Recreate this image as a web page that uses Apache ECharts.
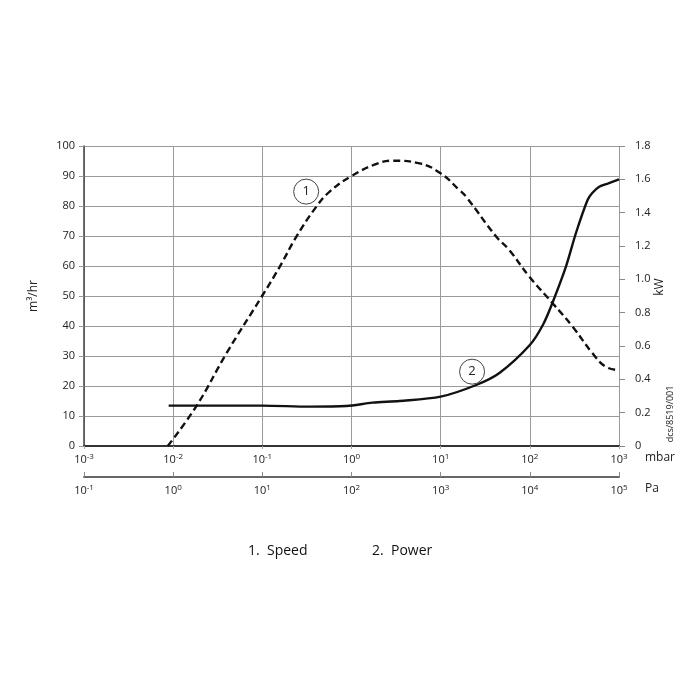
<!DOCTYPE html>
<html>
<head>
<meta charset="utf-8">
<script src="https://cdn.jsdelivr.net/npm/echarts@6/dist/echarts.min.js"></script>
<style>
  html, body { margin: 0; padding: 0; background: #fff; }
  #chart { width: 700px; height: 700px; }
</style>
</head>
<body>
<div id="chart"></div>
<script>
// pressure in mbar, speed in m3/hr (left axis), power in kW (right axis)
const speedPressure = [0.0087, 0.0183, 0.0396, 0.0993, 0.157, 0.241, 0.404, 0.569, 1.0, 1.98, 2.91, 5.8, 10, 16.2, 19.3, 41.9, 58.9, 98.9, 180, 302, 505, 713, 1000];
const speedValues   = [0, 13.4, 30.9, 50, 59.8, 69.8, 79.8, 84.8, 90, 94.2, 95.1, 94.2, 90.9, 85.3, 83.1, 69.8, 65.3, 56.4, 47.6, 39.8, 30.9, 26.4, 25.3];

const powerPressure = [0.0089, 0.1, 0.34, 0.875, 1.72, 3.46, 10, 25, 45.6, 100, 140, 179, 254, 329, 444, 501, 600, 759, 1000];
const powerValues   = [0.242, 0.242, 0.236, 0.24, 0.26, 0.27, 0.296, 0.366, 0.438, 0.606, 0.726, 0.858, 1.076, 1.278, 1.476, 1.518, 1.556, 1.576, 1.6];

const legendItems = ["1.  Speed", "2.  Power"];
const curveTags = ["1", "2"];
// tag positions: [mbar, value on the series' own axis]
const speedTagAt = [0.31, 84.8];
const powerTagAt = [22.5, 0.446];

const FONT = "Open Sans";
const TXT = "#222";

const pair = (xs, ys) => xs.map((x, i) => [x, ys[i]]);

// 10^n labels with superscript exponent
const powLabel = (v) => {
  const e = Math.round(Math.log10(v));
  return `{b|10}{s|${e}}`;
};
const powRich = {
  b: { fontSize: 11, fontFamily: FONT, color: TXT },
  s: { fontSize: 8, fontFamily: FONT, color: TXT, verticalAlign: "top", padding: [0, 0, 6, 0] },
};

const tagPoint = (text, coord) => ({
  symbol: "circle",
  symbolSize: 25,
  itemStyle: { color: "#fff", borderColor: "#444", borderWidth: 1 },
  label: { show: true, position: "inside", formatter: text, color: "#222", fontSize: 13, fontFamily: FONT },
  data: [{ coord: coord }],
});

const chart = echarts.init(document.getElementById("chart"));

chart.setOption({
  animation: false,
  backgroundColor: "#fff",
  textStyle: { fontFamily: FONT },
  grid: { left: 84, right: 81, top: 146, bottom: 254, containLabel: false },
  xAxis: [
    {
      type: "log",
      logBase: 10,
      min: 0.001,
      max: 1000,
      position: "bottom",
      name: "mbar",
      nameLocation: "end",
      nameGap: 26,
      nameTextStyle: { fontSize: 12, color: TXT, fontFamily: FONT, verticalAlign: "top", padding: [6, 0, 0, 0] },
      axisLine: { show: true, onZero: false, lineStyle: { color: "#333", width: 2 } },
      axisTick: { show: true, length: 3, lineStyle: { color: "#aaa" } },
      axisLabel: { formatter: powLabel, rich: powRich, margin: 7 },
      splitLine: { show: true, lineStyle: { color: "#9a9a9a", width: 1 } },
      minorTick: { show: false },
    },
    {
      type: "log",
      logBase: 10,
      min: 0.1,
      max: 100000,
      position: "bottom",
      offset: 31,
      name: "Pa",
      nameLocation: "end",
      nameGap: 26,
      nameTextStyle: { fontSize: 12, color: TXT, fontFamily: FONT, verticalAlign: "top", padding: [6, 0, 0, 0] },
      axisLine: { show: true, onZero: false, lineStyle: { color: "#666", width: 2 } },
      axisTick: { show: true, inside: true, length: 5, lineStyle: { color: "#888" } },
      axisLabel: { formatter: powLabel, rich: powRich, margin: 7 },
      splitLine: { show: false },
    },
  ],
  yAxis: [
    {
      type: "value",
      min: 0,
      max: 100,
      interval: 10,
      position: "left",
      name: "m³/hr",
      nameLocation: "middle",
      nameRotate: 90,
      nameGap: 44,
      nameTextStyle: { fontSize: 12, color: TXT, fontFamily: FONT },
      axisLine: { show: true, onZero: false, lineStyle: { color: "#444", width: 1.5 } },
      axisTick: { show: true, length: 5, lineStyle: { color: "#999" } },
      axisLabel: { fontSize: 11, color: TXT, fontFamily: FONT, margin: 9 },
      splitLine: { show: true, lineStyle: { color: "#9a9a9a", width: 1 } },
    },
    {
      type: "value",
      min: 0,
      max: 1.8,
      interval: 0.2,
      position: "right",
      name: "kW",
      nameLocation: "middle",
      nameRotate: 90,
      nameGap: 35,
      nameMoveOverlap: false,
      nameTextStyle: { fontSize: 12, color: TXT, fontFamily: FONT, padding: [0, 0, 0, 18] },
      axisLine: { show: false },
      axisTick: { show: true, length: 6, lineStyle: { color: "#888" } },
      axisLabel: {
        fontSize: 11, color: TXT, fontFamily: FONT, margin: 16,
        formatter: (v) => (v === 0 ? "0" : v.toFixed(1)),
      },
      splitLine: { show: false },
    },
  ],
  series: [
    {
      name: "Speed",
      type: "line",
      xAxisIndex: 0,
      yAxisIndex: 0,
      data: pair(speedPressure, speedValues),
      smooth: 0.45,
      showSymbol: false,
      lineStyle: { color: "#111", width: 2.4, type: [7, 4] },
      markPoint: tagPoint(curveTags[0], speedTagAt),
      z: 3,
    },
    {
      name: "Power",
      type: "line",
      xAxisIndex: 0,
      yAxisIndex: 1,
      data: pair(powerPressure, powerValues),
      smooth: 0.3,
      showSymbol: false,
      lineStyle: { color: "#111", width: 2.4 },
      markPoint: tagPoint(curveTags[1], powerTagAt),
      z: 3,
    },
  ],
  graphic: [
    {
      type: "text",
      left: 248,
      top: 544,
      style: { text: legendItems[0], fontSize: 14, fontFamily: FONT, fill: "#111" },
    },
    {
      type: "text",
      left: 372,
      top: 544,
      style: { text: legendItems[1], fontSize: 14, fontFamily: FONT, fill: "#111" },
    },
    {
      type: "text",
      x: 670,
      y: 414,
      rotation: Math.PI / 2,
      style: { text: "dcs/8519/001", fontSize: 9, fontFamily: FONT, fill: TXT, align: "center", verticalAlign: "middle" },
    },
  ],
});
</script>
</body>
</html>
